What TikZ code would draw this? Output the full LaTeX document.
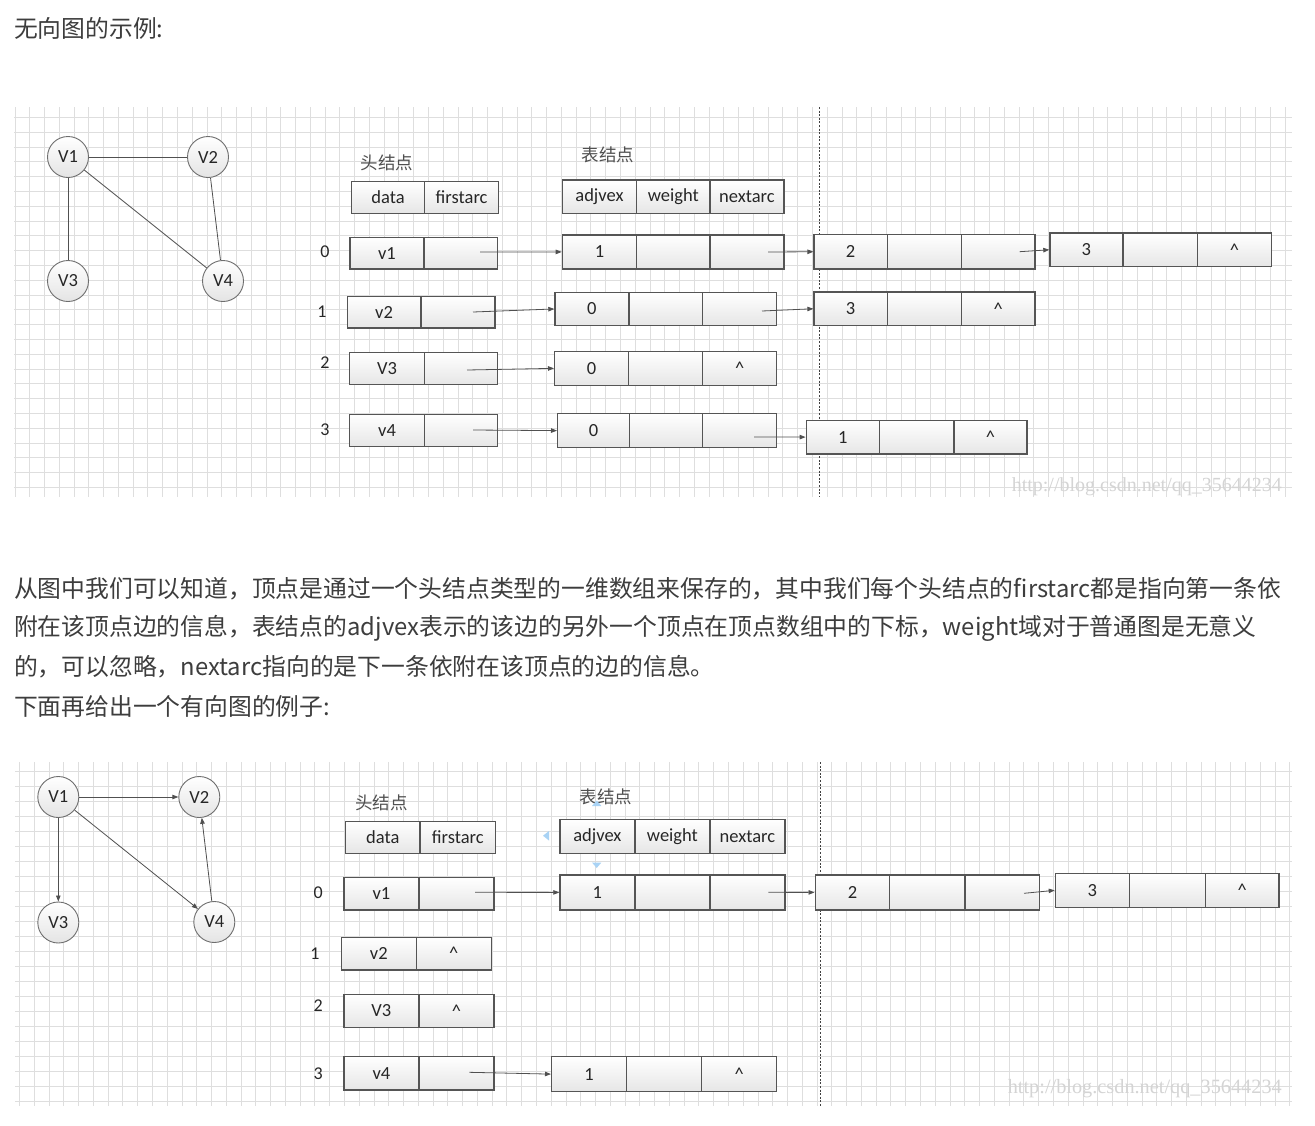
\documentclass[tikz,border=0pt]{standalone}
\usepackage{fontspec}
\usepackage{graphicx}
\usetikzlibrary{arrows.meta}
\newfontfamily\cjkf{Noto Sans CJK SC}
\newfontfamily\calf{Carlito}
\newfontfamily\wmf{Liberation Serif}
\definecolor{gridc}{HTML}{DEDEDE}
\definecolor{boxc}{HTML}{555555}
\definecolor{cellbot}{HTML}{E6E6E6}
\definecolor{circc}{HTML}{6E6E6E}
\definecolor{circbot}{HTML}{E4E4E4}
\definecolor{edgec}{HTML}{505050}
\definecolor{textc}{HTML}{3D3D3D}
\definecolor{capc}{HTML}{505050}
\definecolor{wmc}{HTML}{D4D4D4}
\definecolor{handc}{HTML}{A9D3F5}
\newcommand\cel[6]{%
  \pgfmathsetmacro\mycw{#4-#2}\pgfmathsetmacro\mych{#5-#3}%
  \node[cellbox, minimum width=\mycw pt, minimum height=\mych pt] (#1) at (#2,#3) {#6};}
\newcommand\car{\textasciicircum}
\tikzset{
  x=1pt, y=-1pt,
  gridline/.style={draw=gridc, line width=0.9pt},
  cellbox/.style={draw=boxc, line width=1.2pt, top color=white, bottom color=cellbot,
    inner sep=0pt, anchor=north west, font=\calf\fontsize{18.5}{20}\selectfont, text=black!85},
  vert/.style={circle, draw=circc, line width=0.9pt, top color=white, bottom color=circbot,
    minimum size=41pt, inner sep=0pt, font=\calf\fontsize{18.5}{20}\selectfont, text=black!85},
  edge/.style={draw=edgec, line width=0.8pt},
  arr/.style={edge, -{Triangle[length=6pt,width=4.5pt]}},
  idx/.style={font=\calf\fontsize{18}{20}\selectfont, text=black!85, inner sep=0pt},
  captext/.style={font=\cjkf\fontsize{17.5}{19}\selectfont, text=capc, inner sep=0pt},
  para/.style={anchor=west, inner sep=0pt, font=\cjkf\fontsize{23.8}{28}\selectfont, text=textc},
  wm/.style={anchor=east, inner sep=0pt, text=wmc},
  divline/.style={draw=black!75, line width=0.8pt, dash pattern=on 2pt off 1.6pt},
  handle/.style={fill=handc}
}
\begin{document}
\begin{tikzpicture}
\useasboundingbox[fill=white] (0,0) rectangle (1315,1125);

% ---------- texts ----------
\node[para] (title) at (14,28) {无向图的示例:};
\node[para] (p1) at (14,589) {从图中我们可以知道，顶点是通过一个头结点类型的一维数组来保存的，其中我们每个头结点的firstarc都是指向第一条依};
\node[para] (p2) at (14,628) {附在该顶点边的信息，表结点的adjvex表示的该边的另外一个顶点在顶点数组中的下标，weight域对于普通图是无意义};
\node[para] (p3) at (14,667) {的，可以忽略，nextarc指向的是下一条依附在该顶点的边的信息。};
\node[para] (p4) at (14,706) {下面再给出一个有向图的例子:};

% ---------- grid 1 ----------
\foreach \k in {0,...,86} \draw[gridline] ({15+14.767*\k},107) -- ({15+14.767*\k},497);
\foreach \j in {0,...,25} \draw[gridline] (14,{117.5+14.8*\j}) -- (1292,{117.5+14.8*\j});
\draw[divline] (819,107) -- (819,497);
\node[wm] (Awm) at (1282,487) {\resizebox{270pt}{!}{\wmf\fontsize{15}{17}\selectfont http://blog.csdn.net/qq\_35644234}};

% ---------- grid 2 ----------
\foreach \k in {0,...,86} \draw[gridline] ({19.5+14.77*\k},762) -- ({19.5+14.77*\k},1106);
\foreach \j in {0,...,22} \draw[gridline] (15,{771.7+15*\j}) -- (1292,{771.7+15*\j});
\draw[divline] (820,762) -- (820,1106);
\node[wm] (Bwm) at (1282,1089) {\resizebox{274pt}{!}{\wmf\fontsize{15}{17}\selectfont http://blog.csdn.net/qq\_35644234}};

% ========== diagram 1 ==========
\node[vert] (AV1) at (68,157) {V1};
\node[vert] (AV2) at (208,157) {V2};
\node[vert] (AV3) at (68,281) {V3};
\node[vert] (AV4) at (223,281) {V4};
\draw[edge] (AV1) -- (AV2);
\draw[edge] (AV1) -- (AV3);
\draw[edge] (AV1) -- (AV4);
\draw[edge] (AV2) -- (AV4);

\node[captext] (Ahcap) at (387,163) {头结点};
\node[captext] (Atcap) at (608,155) {表结点};
\cel{Ahd}{351}{181}{424}{212.5}{data}
\cel{Ahf}{424}{181}{498}{212.5}{firstarc}
\cel{Ata}{561.7}{179.3}{636}{212.7}{adjvex}
\cel{Atw}{636}{179.3}{709.3}{212.7}{weight}
\cel{Atn}{709.3}{179.3}{783.3}{212.7}{nextarc}

% row 0
\node[idx] (Ai0) at (325,252) {0};
\cel{A0d}{349.3}{236.7}{423.3}{268.3}{v1}
\cel{A0f}{423.3}{236.7}{496.7}{268.3}{}
\cel{A01a}{561.7}{234.3}{636}{268.3}{1}
\cel{A01b}{636}{234.3}{709.3}{268.3}{}
\cel{A01c}{709.3}{234.3}{783.3}{268.3}{}
\cel{A02a}{813.4}{234}{886.5}{268.3}{2}
\cel{A02b}{886.5}{234}{960.9}{268.3}{}
\cel{A02c}{960.9}{234}{1034.3}{268.3}{}
\cel{A03a}{1049.3}{232.3}{1122.3}{266}{3}
\cel{A03b}{1122.3}{232.3}{1197}{266}{}
\cel{A03c}{1197}{232.3}{1270.7}{266}{\car}
% row 1
\node[idx] (Ai1) at (322,311.5) {1};
\cel{A1d}{346.7}{295.7}{420.3}{327.3}{v2}
\cel{A1f}{420.3}{295.7}{494.3}{327.3}{}
\cel{A11a}{554.3}{291.7}{628.3}{325}{0}
\cel{A11b}{628.3}{291.7}{702}{325}{}
\cel{A11c}{702}{291.7}{776}{325}{}
\cel{A12a}{813.4}{291.3}{886.5}{325}{3}
\cel{A12b}{886.5}{291.3}{960.9}{325}{}
\cel{A12c}{960.9}{291.3}{1034.3}{325}{\car}
% row 2
\node[idx] (Ai2) at (325,363) {2};
\cel{A2d}{349}{352}{424}{384}{V3}
\cel{A2f}{424}{352}{497}{384}{}
\cel{A21a}{554}{351}{628}{384.5}{0}
\cel{A21b}{628}{351}{702}{384.5}{}
\cel{A21c}{702}{351}{776}{384.5}{\car}
% row 3
\node[idx] (Ai3) at (325,430) {3};
\cel{A3d}{349}{413.5}{424}{446}{v4}
\cel{A3f}{424}{413.5}{497}{446}{}
\cel{A31a}{557}{413}{629}{447}{0}
\cel{A31b}{629}{413}{702}{447}{}
\cel{A31c}{702}{413}{776}{447}{}
\cel{A32a}{805.6}{419.7}{879}{453.3}{1}
\cel{A32b}{879}{419.7}{953.4}{453.3}{}
\cel{A32c}{953.4}{419.7}{1026.4}{453.3}{\car}

\coordinate (As01) at (480,252);
\coordinate (As02) at (768,252);
\coordinate (As03) at (1019.6,251.7);
\coordinate (As11) at (473,312);
\coordinate (As12) at (762,311);
\coordinate (As21) at (467,370);
\coordinate (As31) at (473,430);
\coordinate (As32) at (754,437);
\draw[arr] (As01) -- (A01a.west);
\draw[arr] (As02) -- (A02a.west);
\draw[arr] (As03) -- (A03a.west);
\draw[arr] (As11) -- (A11a.west);
\draw[arr] (As12) -- (A12a.west);
\draw[arr] (As21) -- (A21a.west);
\draw[arr] (As31) -- (A31a.west);
\draw[arr] (As32) -- (A32a.west);

% ========== diagram 2 ==========
\node[vert] (BV1) at (58.3,797) {V1};
\node[vert] (BV2) at (199.3,797) {V2};
\node[vert] (BV3) at (58.3,922.5) {V3};
\node[vert] (BV4) at (214.3,922) {V4};
\draw[arr] (BV1) -- (BV2);
\draw[arr] (BV1) -- (BV3);
\draw[arr] (BV1) -- (BV4);
\draw[arr] (BV4) -- (BV2);

\node[captext] (Bhcap) at (381.7,803.3) {头结点};
\node[captext] (Btcap) at (606,796.7) {表结点};
\cel{Bhd}{345}{820.7}{419.3}{852.7}{data}
\cel{Bhf}{419.3}{820.7}{495}{852.7}{firstarc}
\cel{Bta}{559.3}{818.7}{634.3}{852.7}{adjvex}
\cel{Btw}{634.3}{818.7}{709.3}{852.7}{weight}
\cel{Btn}{709.3}{818.7}{784.3}{852.7}{nextarc}
\fill[handle] (549,831) -- (549,840.5) -- (543,835.7) -- cycle;
\fill[handle] (592,806) -- (601.4,806) -- (596.7,800.5) -- cycle;
\fill[handle] (592,862.5) -- (601.4,862.5) -- (596.7,868) -- cycle;

% row 0
\node[idx] (Bi0) at (318.3,892.7) {0};
\cel{B0d}{343.3}{876.7}{418.3}{909.3}{v1}
\cel{B0f}{418.3}{876.7}{493.3}{909.3}{}
\cel{B01a}{559.3}{874.3}{634.3}{909.3}{1}
\cel{B01b}{634.3}{874.3}{709.3}{909.3}{}
\cel{B01c}{709.3}{874.3}{784.3}{909.3}{}
\cel{B02a}{814.5}{874.3}{889.2}{909.3}{2}
\cel{B02b}{889.2}{874.3}{964.3}{909.3}{}
\cel{B02c}{964.3}{874.3}{1038.7}{909.3}{}
\cel{B03a}{1054.7}{872.7}{1128.8}{906.7}{3}
\cel{B03b}{1128.8}{872.7}{1204.9}{906.7}{}
\cel{B03c}{1204.9}{872.7}{1278.3}{906.7}{\car}
% row 1
\node[idx] (Bi1) at (315,953.3) {1};
\cel{B1d}{340.7}{936.7}{415.7}{969.3}{v2}
\cel{B1f}{415.7}{936.7}{490.7}{969.3}{\car}
% row 2
\node[idx] (Bi2) at (318.3,1006) {2};
\cel{B2d}{343.3}{994}{418.3}{1026.7}{V3}
\cel{B2f}{418.3}{994}{493.3}{1026.7}{\car}
% row 3
\node[idx] (Bi3) at (318.3,1073.3) {3};
\cel{B3d}{343.3}{1056}{418.3}{1089.3}{v4}
\cel{B3f}{418.3}{1056}{493.3}{1089.3}{}
\cel{B31a}{551}{1056}{626}{1091}{1}
\cel{B31b}{626}{1056}{701}{1091}{}
\cel{B31c}{701}{1056}{776}{1091}{\car}

\coordinate (Bs01) at (475,892.3);
\coordinate (Bs02) at (768.3,892.3);
\coordinate (Bs03) at (1024,893.3);
\coordinate (Bs31) at (469.3,1072.3);
\draw[arr] (Bs01) -- (B01a.west);
\draw[arr] (Bs02) -- (B02a.west);
\draw[arr] (Bs03) -- (B03a.west);
\draw[arr] (Bs31) -- (B31a.west);
\end{tikzpicture}
\end{document}
